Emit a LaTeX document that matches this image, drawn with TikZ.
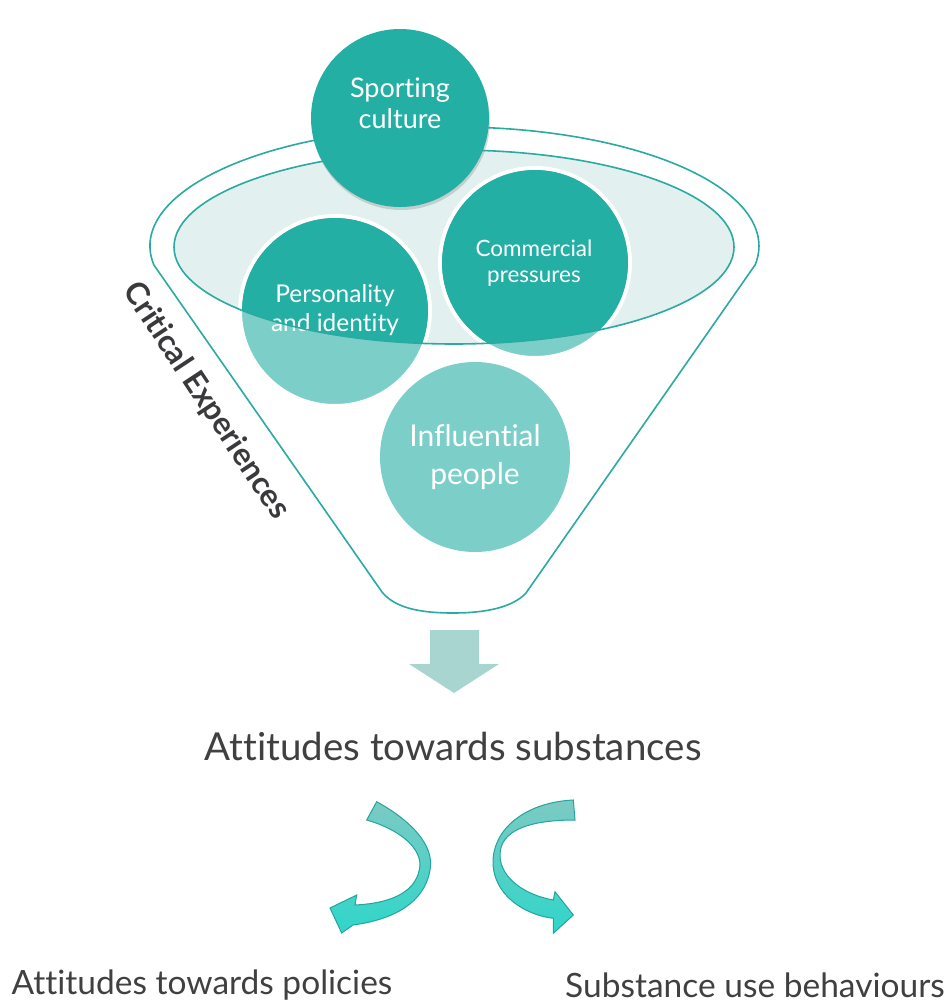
\documentclass[tikz,border=0pt]{standalone}
\usepackage{fontspec}
\setmainfont{Lato}[Ligatures={NoCommon}]
\usetikzlibrary{shadows}
\definecolor{darkteal}{HTML}{24AFA5}
\definecolor{lightteal}{HTML}{7BCFC8}
\definecolor{ellfill}{HTML}{E2F0EF}
\definecolor{rimcol}{HTML}{2AAAA0}
\definecolor{downcol}{HTML}{A9D5D1}
\definecolor{txtgray}{HTML}{404040}
\definecolor{critgray}{HTML}{3A3A3C}
\definecolor{arrtop}{HTML}{7CCAC3}
\definecolor{arrbot}{HTML}{2FD6CA}
\definecolor{arredge}{HTML}{22A59B}
\begin{document}
\begin{tikzpicture}[x=1pt,y=-1pt,
  rim/.style={draw=rimcol, line width=1.6pt},
  bubble/.style={circle, inner sep=0pt, minimum size=#1},
  ring/.style={draw=white, line width=4pt},
  intext/.style={text=white, align=center, inner sep=0pt},
  caption/.style={text=txtgray, inner sep=0pt},
  ribbon/.style={draw=arredge, line width=1pt, top color=arrtop, bottom color=arrbot}]
\useasboundingbox (0,0) rectangle (949,1003);

% funnel body
\draw[rim, fill=white] (153.9,265) arc[start angle=170.8, end angle=369.2, x radius=304.5, y radius=119]
  -- (526,593) .. controls (513,607) and (487,613) .. (453,613)
  .. controls (420,613) and (395,608) .. (382,592) -- cycle;

% inner ellipse fill
\fill[ellfill] (454,247) ellipse [x radius=280, y radius=97];

% circles partly inside the rim
\node[bubble=190pt, fill=lightteal, ring] (pers) at (335,311) {};
\node[bubble=190pt, fill=lightteal, ring] (comm) at (535,263) {};
\begin{scope}
  \clip (454,247) ellipse [x radius=280, y radius=97];
  \fill[darkteal] (pers.center) circle[radius=93];
  \fill[darkteal] (comm.center) circle[radius=93];
\end{scope}
\node[intext, font=\fontsize{24.5}{29}\selectfont] (perst) at (335,310) {Personality\\and identity};
\node[intext, font=\fontsize{22.5}{26}\selectfont] (commt) at (534,263) {Commercial\\pressures};

% inner ellipse border
\draw[rim] (454,247) ellipse [x radius=280, y radius=97];

% influential people
\node[bubble=190pt, fill=lightteal] (infl) at (475,457) {};
\node[intext, font=\fontsize{30}{38}\selectfont] (inflt) at (475,457) {Influential\\people};

% sporting culture
\node[bubble=178pt, fill=darkteal, drop shadow={opacity=0.3, shadow xshift=1pt, shadow yshift=-3pt}] (sport) at (400,118) {};
\node[intext, font=\fontsize{27}{31}\selectfont] (sportt) at (400,103) {Sporting\\culture};

% side label
\node[rotate=-56.5, text=critgray, font=\bfseries\fontsize{31.5}{31.5}\selectfont, inner sep=0pt] (crit) at (206,401) {Critical Experiences};

% down arrow
\fill[downcol] (430,630) -- (479,630) -- (479,664) -- (499,664) -- (454,693) -- (409,664) -- (430,664) -- cycle;

% captions
\node[caption, font=\fontsize{38.5}{38.5}\selectfont] (att) at (453,746) {Attitudes towards substances};
\node[caption, font=\fontsize{33.5}{33.5}\selectfont] (pol) at (202,985) {Attitudes towards policies};
\node[caption, font=\fontsize{33.5}{33.5}\selectfont] (beh) at (755,985) {Substance use behaviours};

% curved arrows
\path[ribbon] (376.7,801.7) .. controls (410,820) and (435,845) .. (430,870)
  .. controls (426,895) and (405,918) .. (353,925) -- (341.7,933) -- (330,908) -- (356.7,895) -- (355,905)
  .. controls (395,903) and (418,890) .. (420,865) .. controls (420,845) and (395,828) .. (366.7,820) -- cycle;
\path[ribbon] (573.3,800) .. controls (530,802) and (495,825) .. (493,860)
  .. controls (492,895) and (525,915) .. (553.3,918.3) -- (553.3,933.3) -- (573.3,915) -- (555,891.7) -- (553.3,900)
  .. controls (525,895) and (500,878) .. (500,855) .. controls (500,830) and (530,820) .. (575,820) -- cycle;
\end{tikzpicture}
\end{document}
